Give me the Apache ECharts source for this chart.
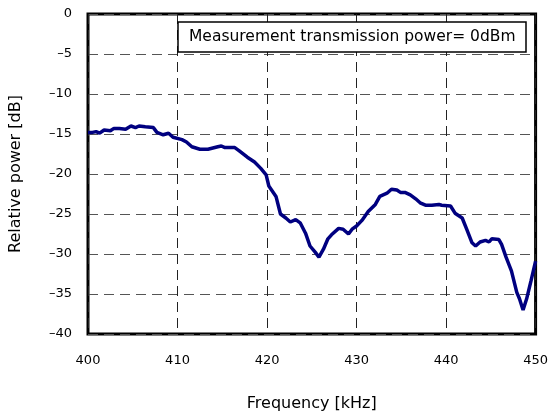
<!DOCTYPE html>
<html>
<head>
<meta charset="utf-8">
<script src="https://cdn.jsdelivr.net/npm/echarts@6/dist/echarts.min.js"></script>
<style>
  html, body { margin: 0; padding: 0; background: #fff; }
  #chart { width: 551px; height: 417px; }
</style>
</head>
<body>
<div id="chart"></div>
<script>
// frequency [kHz] and relative power [dB]
const freq = [
  400.0, 400.5, 400.9, 401.3, 401.8, 402.5, 402.9, 403.5, 404.2, 404.8,
  405.3, 405.7, 406.4, 407.3, 407.7, 408.4, 409.0, 409.5, 410.5, 411.0,
  411.6, 412.5, 413.4, 413.6, 414.5, 414.9, 415.3, 416.4, 416.9, 417.8,
  418.6, 419.3, 419.9, 420.2, 421.0, 421.5, 422.1, 422.6, 423.2, 423.7,
  424.3, 424.8, 425.4, 425.8, 426.3, 426.8, 427.2, 428.0, 428.5, 429.1,
  429.5, 430.0, 430.6, 431.3, 432.1, 432.6, 433.4, 433.9, 434.5, 434.9,
  435.4, 436.0, 436.6, 437.1, 437.7, 438.4, 439.2, 439.5, 440.5, 441.0,
  441.8, 442.3, 442.9, 443.3, 443.8, 444.4, 444.8, 445.1, 445.9, 446.2,
  446.7, 447.3, 447.9, 448.2, 448.6, 449.0, 449.5, 450.0
];
const power = [
  -14.8, -14.8, -14.7, -14.9, -14.5, -14.6, -14.3, -14.3, -14.4, -14.0,
  -14.2, -14.0, -14.1, -14.2, -14.8, -15.1, -14.9, -15.4, -15.7, -16.0,
  -16.6, -16.9, -16.9, -16.7, -16.6, -16.5, -16.7, -16.7, -17.1, -17.9,
  -18.5, -19.3, -20.1, -21.5, -22.8, -25.0, -25.5, -26.0, -25.7, -26.1,
  -27.4, -29.0, -29.8, -30.4, -29.4, -28.1, -27.6, -26.8, -26.9, -27.5,
  -26.9, -26.5, -25.8, -24.7, -23.8, -22.8, -22.4, -21.9, -22.0, -22.3,
  -22.3, -22.6, -23.1, -23.6, -23.9, -23.9, -23.8, -23.9, -24.0, -24.9,
  -25.5, -26.9, -28.6, -29.0, -28.5, -28.3, -28.5, -28.1, -28.2, -28.8,
  -30.4, -32.1, -34.8, -35.6, -37.0, -35.6, -33.3, -30.9
];
const note = 'Measurement transmission power= 0dBm';

const font = 'DejaVu Sans';
const chart = echarts.init(document.getElementById('chart'));

const option = {
  animation: false,
  backgroundColor: '#fff',
  // the boxed note in the top right
  title: {
    text: note,
    left: 178,
    top: 22,
    padding: [7, 11, 7, 11],
    borderColor: '#000',
    borderWidth: 1.5,
    backgroundColor: '#fff',
    textStyle: { fontFamily: font, fontSize: 15.5, fontWeight: 'normal', color: '#000' }
  },
  grid: {
    left: 87, right: 12, top: 14, bottom: 80,
    show: true,
    borderColor: '#000',
    borderWidth: 3
  },
  xAxis: {
    type: 'value',
    min: 400, max: 450, interval: 10,
    name: 'Frequency [kHz]',
    nameLocation: 'middle',
    nameGap: 62,
    nameTextStyle: { fontFamily: font, fontSize: 16, color: '#000' },
    axisLine: { show: false },
    axisTick: { show: false },
    axisLabel: { margin: 20, fontFamily: font, fontSize: 13, color: '#000' },
    splitLine: { show: true, lineStyle: { color: '#222', width: 1, type: [10, 6] } }
  },
  yAxis: {
    type: 'value',
    min: -40, max: 0, interval: 5,
    name: 'Relative power [dB]',
    nameLocation: 'middle',
    nameGap: 64,
    nameTextStyle: { fontFamily: font, fontSize: 16, color: '#000' },
    axisLine: { show: false },
    axisTick: { show: false },
    axisLabel: {
      margin: 16, fontFamily: font, fontSize: 13, color: '#000',
      formatter: v => String(v).replace('-', '\u2013')
    },
    splitLine: { show: true, lineStyle: { color: '#555', width: 1, type: [10, 6] } }
  },
  series: [{
    type: 'line',
    data: freq.map((f, i) => [f, power[i]]),
    showSymbol: false,
    lineStyle: { color: '#000080', width: 3.5 },
    z: 3
  }]
};

chart.setOption(option);
</script>
</body>
</html>
